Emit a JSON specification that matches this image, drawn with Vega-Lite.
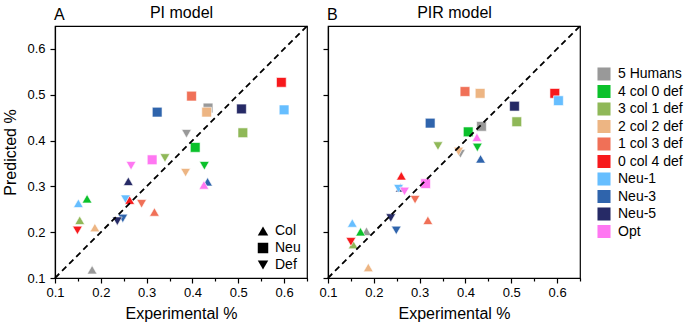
{
  "$schema": "https://vega.github.io/schema/vega-lite/v6.json",
  "padding": {"left": 2, "top": 3, "right": 2, "bottom": 5},
  "background": "white",
  "spacing": 9,
  "config": {
    "font": "Liberation Sans",
    "view": {"stroke": "black", "strokeWidth": 1.2},
    "axis": {
      "grid": false,
      "domainColor": "black",
      "domainWidth": 1.2,
      "tickColor": "black",
      "tickWidth": 1.2,
      "labelColor": "black",
      "labelFont": "Liberation Sans",
      "labelFontSize": 13,
      "titleColor": "black",
      "titleFont": "Liberation Sans",
      "titleFontSize": 16,
      "titleFontWeight": "normal"
    },
    "title": {"font": "Liberation Sans", "fontSize": 16, "fontWeight": "normal", "color": "black"},
    "legend": {"labelFont": "Liberation Sans", "labelColor": "black"}
  },
  "datasets": {
    "pi": [
      {"group": "5 Humans", "kind": "Neu", "exp": 0.434, "pred": 0.471},
      {"group": "5 Humans", "kind": "Def", "exp": 0.387, "pred": 0.415},
      {"group": "5 Humans", "kind": "Col", "exp": 0.181, "pred": 0.118},
      {"group": "4 col 0 def", "kind": "Neu", "exp": 0.406, "pred": 0.385},
      {"group": "4 col 0 def", "kind": "Def", "exp": 0.426, "pred": 0.345},
      {"group": "4 col 0 def", "kind": "Col", "exp": 0.170, "pred": 0.273},
      {"group": "3 col 1 def", "kind": "Neu", "exp": 0.510, "pred": 0.417},
      {"group": "3 col 1 def", "kind": "Def", "exp": 0.340, "pred": 0.362},
      {"group": "3 col 1 def", "kind": "Col", "exp": 0.154, "pred": 0.226},
      {"group": "2 col 2 def", "kind": "Neu", "exp": 0.431, "pred": 0.462},
      {"group": "2 col 2 def", "kind": "Def", "exp": 0.385, "pred": 0.330},
      {"group": "2 col 2 def", "kind": "Col", "exp": 0.187, "pred": 0.210},
      {"group": "1 col 3 def", "kind": "Neu", "exp": 0.398, "pred": 0.497},
      {"group": "1 col 3 def", "kind": "Def", "exp": 0.289, "pred": 0.262},
      {"group": "1 col 3 def", "kind": "Col", "exp": 0.317, "pred": 0.244},
      {"group": "0 col 4 def", "kind": "Neu", "exp": 0.594, "pred": 0.527},
      {"group": "0 col 4 def", "kind": "Def", "exp": 0.149, "pred": 0.204},
      {"group": "Neu-1", "kind": "Neu", "exp": 0.600, "pred": 0.467},
      {"group": "Neu-1", "kind": "Def", "exp": 0.254, "pred": 0.272},
      {"group": "Neu-1", "kind": "Col", "exp": 0.151, "pred": 0.263},
      {"group": "Neu-3", "kind": "Neu", "exp": 0.323, "pred": 0.462},
      {"group": "Neu-3", "kind": "Def", "exp": 0.248, "pred": 0.230},
      {"group": "Neu-3", "kind": "Col", "exp": 0.433, "pred": 0.310},
      {"group": "Neu-5", "kind": "Neu", "exp": 0.507, "pred": 0.469},
      {"group": "Neu-5", "kind": "Def", "exp": 0.236, "pred": 0.224},
      {"group": "Neu-5", "kind": "Col", "exp": 0.260, "pred": 0.311},
      {"group": "Opt", "kind": "Neu", "exp": 0.312, "pred": 0.358},
      {"group": "Opt", "kind": "Def", "exp": 0.266, "pred": 0.345},
      {"group": "Opt", "kind": "Col", "exp": 0.425, "pred": 0.303},
      {"group": "0 col 4 def", "kind": "Col", "exp": 0.263, "pred": 0.270}
    ],
    "pir": [
      {"group": "Neu-5", "kind": "Col", "exp": 0.258, "pred": 0.297},
      {"group": "5 Humans", "kind": "Neu", "exp": 0.435, "pred": 0.431},
      {"group": "5 Humans", "kind": "Def", "exp": 0.389, "pred": 0.371},
      {"group": "5 Humans", "kind": "Col", "exp": 0.184, "pred": 0.202},
      {"group": "4 col 0 def", "kind": "Neu", "exp": 0.406, "pred": 0.419},
      {"group": "4 col 0 def", "kind": "Def", "exp": 0.426, "pred": 0.385},
      {"group": "4 col 0 def", "kind": "Col", "exp": 0.171, "pred": 0.201},
      {"group": "3 col 1 def", "kind": "Neu", "exp": 0.512, "pred": 0.441},
      {"group": "3 col 1 def", "kind": "Def", "exp": 0.340, "pred": 0.388},
      {"group": "3 col 1 def", "kind": "Col", "exp": 0.155, "pred": 0.173},
      {"group": "2 col 2 def", "kind": "Neu", "exp": 0.432, "pred": 0.503},
      {"group": "2 col 2 def", "kind": "Def", "exp": 0.385, "pred": 0.376},
      {"group": "2 col 2 def", "kind": "Col", "exp": 0.188, "pred": 0.123},
      {"group": "1 col 3 def", "kind": "Neu", "exp": 0.399, "pred": 0.507},
      {"group": "1 col 3 def", "kind": "Def", "exp": 0.290, "pred": 0.271},
      {"group": "1 col 3 def", "kind": "Col", "exp": 0.318, "pred": 0.226},
      {"group": "0 col 4 def", "kind": "Neu", "exp": 0.595, "pred": 0.503},
      {"group": "0 col 4 def", "kind": "Def", "exp": 0.150, "pred": 0.179},
      {"group": "0 col 4 def", "kind": "Col", "exp": 0.260, "pred": 0.323},
      {"group": "Neu-1", "kind": "Neu", "exp": 0.603, "pred": 0.487},
      {"group": "Neu-1", "kind": "Def", "exp": 0.254, "pred": 0.295},
      {"group": "Neu-1", "kind": "Col", "exp": 0.153, "pred": 0.220},
      {"group": "Neu-3", "kind": "Neu", "exp": 0.323, "pred": 0.438},
      {"group": "Neu-3", "kind": "Def", "exp": 0.249, "pred": 0.204},
      {"group": "Neu-3", "kind": "Col", "exp": 0.433, "pred": 0.360},
      {"group": "Neu-5", "kind": "Neu", "exp": 0.507, "pred": 0.475},
      {"group": "Neu-5", "kind": "Def", "exp": 0.237, "pred": 0.231},
      {"group": "Opt", "kind": "Neu", "exp": 0.313, "pred": 0.306},
      {"group": "Opt", "kind": "Def", "exp": 0.267, "pred": 0.289},
      {"group": "Opt", "kind": "Col", "exp": 0.425, "pred": 0.407}
    ],
    "diagonal": [{"x0": 0.1, "y0": 0.1, "x1": 0.65, "y1": 0.65}]
  },
  "resolve": {
    "scale": {"shape": "independent"},
    "legend": {"shape": "independent"}
  },
  "hconcat": [
    {
      "width": 252,
      "height": 252,
      "title": {"text": "A", "anchor": "start", "frame": "group", "offset": -19, "dx": -1},
      "resolve": {"scale": {"x": "independent"}, "axis": {"x": "independent"}},
      "layer": [
        {
          "data": {"name": "pi"},
          "mark": {"type": "point", "filled": true, "size": 95, "opacity": 1, "stroke": "white", "strokeWidth": 0.6},
          "encoding": {
            "x": {
              "field": "exp", "type": "quantitative",
              "scale": {"domain": [0.1, 0.65], "nice": false, "zero": false},
              "axis": {
                "orient": "bottom",
                "title": "Experimental %",
                "values": [0.1, 0.15, 0.2, 0.25, 0.3, 0.35, 0.4, 0.45, 0.5, 0.55, 0.6, 0.65],
                "labelExpr": "round(datum.value * 100) % 10 === 0 ? format(datum.value, '.1f') : ''",
                "tickSize": {"condition": {"test": "round(datum.value * 100) % 10 === 0", "value": 5}, "value": 3},
                "labelPadding": 3,
                "titlePadding": 6,
                "labelFlush": false,
                "labelOverlap": false
              }
            },
            "y": {
              "field": "pred", "type": "quantitative",
              "scale": {"domain": [0.1, 0.65], "nice": false, "zero": false},
              "axis": {
                "title": "Predicted %",
                "values": [0.1, 0.15, 0.2, 0.25, 0.3, 0.35, 0.4, 0.45, 0.5, 0.55, 0.6, 0.65],
                "labelExpr": "round(datum.value * 100) % 10 === 0 ? format(datum.value, '.1f') : ''",
                "tickSize": {"condition": {"test": "round(datum.value * 100) % 10 === 0", "value": 5}, "value": 3},
                "labelPadding": 5,
                "titlePadding": 8,
                "labelFlush": false,
                "labelOverlap": false
              }
            },
            "color": {
              "field": "group", "type": "nominal",
              "scale": {
                "domain": ["5 Humans", "4 col 0 def", "3 col 1 def", "2 col 2 def", "1 col 3 def", "0 col 4 def", "Neu-1", "Neu-3", "Neu-5", "Opt"],
                "range": ["#999999", "#0BC12B", "#8FB858", "#EDB583", "#F07057", "#F7191C", "#66BEFF", "#2F64AC", "#262A66", "#FF77F2"]
              },
              "legend": {
                "title": null, "orient": "none", "legendX": 542, "legendY": 41,
                "symbolType": "square", "symbolSize": 170, "symbolStrokeWidth": 0,
                "labelFontSize": 14, "labelOffset": 7, "rowPadding": 3.5
              }
            },
            "shape": {
              "field": "kind", "type": "nominal",
              "scale": {"domain": ["Col", "Neu", "Def"], "range": ["triangle-up", "square", "triangle-down"]},
              "legend": {
                "title": null, "orient": "bottom-right", "offset": 6,
                "symbolSize": 110, "symbolFillColor": "black", "symbolStrokeColor": "black", "symbolStrokeWidth": 0,
                "labelFontSize": 14, "labelOffset": 5, "rowPadding": 3
              }
            }
          }
        },
        {
          "data": {"name": "diagonal"},
          "mark": {"type": "rule", "color": "black", "strokeWidth": 1.8, "strokeDash": [6, 4]},
          "encoding": {
            "x": {
              "field": "x0", "type": "quantitative",
              "scale": {"domain": [0.1, 0.65], "nice": false, "zero": false},
              "axis": {"orient": "top", "title": "PI model", "titleFontSize": 16, "ticks": false, "labels": false, "domain": false, "titlePadding": 9, "titleBaseline": "alphabetic"}
            },
            "y": {"field": "y0", "type": "quantitative"},
            "x2": {"field": "x1"},
            "y2": {"field": "y1"}
          }
        }
      ]
    },
    {
      "width": 252,
      "height": 252,
      "title": {"text": "B", "anchor": "start", "frame": "group", "offset": -19, "dx": -1},
      "resolve": {"scale": {"x": "independent"}, "axis": {"x": "independent"}},
      "layer": [
        {
          "data": {"name": "pir"},
          "mark": {"type": "point", "filled": true, "size": 95, "opacity": 1, "stroke": "white", "strokeWidth": 0.6},
          "encoding": {
            "x": {
              "field": "exp", "type": "quantitative",
              "scale": {"domain": [0.1, 0.65], "nice": false, "zero": false},
              "axis": {
                "orient": "bottom",
                "title": "Experimental %",
                "values": [0.1, 0.15, 0.2, 0.25, 0.3, 0.35, 0.4, 0.45, 0.5, 0.55, 0.6, 0.65],
                "labelExpr": "round(datum.value * 100) % 10 === 0 ? format(datum.value, '.1f') : ''",
                "tickSize": {"condition": {"test": "round(datum.value * 100) % 10 === 0", "value": 5}, "value": 3},
                "labelPadding": 3,
                "titlePadding": 6,
                "labelFlush": false,
                "labelOverlap": false
              }
            },
            "y": {
              "field": "pred", "type": "quantitative",
              "scale": {"domain": [0.1, 0.65], "nice": false, "zero": false},
              "axis": {
                "title": null,
                "labels": false,
                "values": [0.1, 0.15, 0.2, 0.25, 0.3, 0.35, 0.4, 0.45, 0.5, 0.55, 0.6, 0.65],
                "tickSize": {"condition": {"test": "round(datum.value * 100) % 10 === 0", "value": 5}, "value": 3}
              }
            },
            "color": {
              "field": "group", "type": "nominal",
              "scale": {
                "domain": ["5 Humans", "4 col 0 def", "3 col 1 def", "2 col 2 def", "1 col 3 def", "0 col 4 def", "Neu-1", "Neu-3", "Neu-5", "Opt"],
                "range": ["#999999", "#0BC12B", "#8FB858", "#EDB583", "#F07057", "#F7191C", "#66BEFF", "#2F64AC", "#262A66", "#FF77F2"]
              },
              "legend": {
                "title": null, "orient": "none", "legendX": 542, "legendY": 41,
                "symbolType": "square", "symbolSize": 170, "symbolStrokeWidth": 0,
                "labelFontSize": 14, "labelOffset": 7, "rowPadding": 3.5
              }
            },
            "shape": {
              "field": "kind", "type": "nominal",
              "scale": {"domain": ["Col", "Neu", "Def"], "range": ["triangle-up", "square", "triangle-down"]},
              "legend": null
            }
          }
        },
        {
          "data": {"name": "diagonal"},
          "mark": {"type": "rule", "color": "black", "strokeWidth": 1.8, "strokeDash": [6, 4]},
          "encoding": {
            "x": {
              "field": "x0", "type": "quantitative",
              "scale": {"domain": [0.1, 0.65], "nice": false, "zero": false},
              "axis": {"orient": "top", "title": "PIR model", "titleFontSize": 16, "ticks": false, "labels": false, "domain": false, "titlePadding": 9, "titleBaseline": "alphabetic"}
            },
            "y": {"field": "y0", "type": "quantitative"},
            "x2": {"field": "x1"},
            "y2": {"field": "y1"}
          }
        }
      ]
    }
  ]
}
